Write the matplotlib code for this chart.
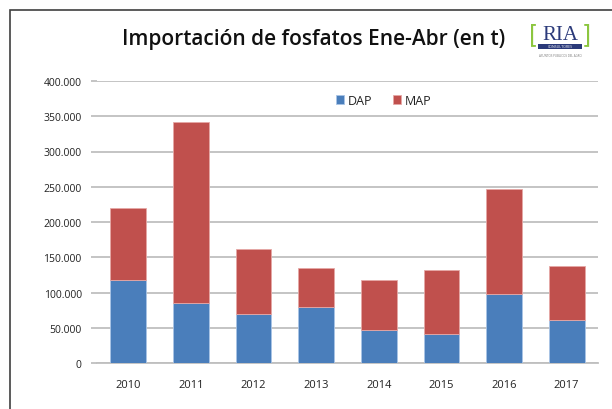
import matplotlib
matplotlib.use("Agg")
import matplotlib.pyplot as plt
from matplotlib.patches import Rectangle
from matplotlib.ticker import FuncFormatter

years = ["2010", "2011", "2012", "2013", "2014", "2015", "2016", "2017"]
dap = [117600, 85800, 69800, 80200, 47600, 41000, 98200, 61300]
total = [219500, 341400, 162300, 135000, 117600, 131700, 246500, 138200]
map_ = [t - d for t, d in zip(total, dap)]

plt.rcParams['font.family'] = ['Open Sans', 'DejaVu Sans']

fig = plt.figure(figsize=(6.12, 4.10), dpi=100)
fig.patch.set_facecolor('white')

# outer frame (cropped on right and bottom)
fig.add_artist(Rectangle((10/612, -0.1), 1.2, 1 - 11/410 + 0.1, transform=fig.transFigure,
                         fill=False, edgecolor='#404040', linewidth=1.2))

ax = fig.add_axes([97/612, 1 - 364.3/410, 501/612, 282.4/410])
x = range(len(years))
ax.bar(x, dap, width=0.57, color='#4A7EBB', edgecolor='#a9c4e6', linewidth=0.6, label='DAP', zorder=3)
ax.bar(x, map_, bottom=dap, width=0.57, color='#C0504D', edgecolor='#e6a8a6', linewidth=0.6, label='MAP', zorder=3)

ax.set_xlim(-0.5, len(years) - 0.5)
ax.set_ylim(0, 400000)
ax.set_yticks(range(0, 400001, 50000))
ax.yaxis.set_major_formatter(FuncFormatter(lambda v, p: f"{int(v):,}".replace(",", ".")))
ax.set_xticks(list(x))
ax.set_xticklabels(years)
ax.grid(axis='y', color='#bfbfbf', linewidth=1.3, zorder=0)
for s in ['top', 'right', 'left']:
    ax.spines[s].set_visible(False)
ax.spines['bottom'].set_color('#bfbfbf')
ax.spines['bottom'].set_linewidth(1.3)
ax.tick_params(axis='y', length=4, color='#bfbfbf', width=1.3, labelsize=7.5, labelcolor='#222222', pad=7)
ax.tick_params(axis='x', length=0, labelsize=8, labelcolor='#222222', pad=11)

leg = ax.legend(loc='upper center', bbox_to_anchor=(0.572, 0.995), ncol=2, frameon=False,
                fontsize=9, handlelength=0.7, handleheight=0.7, handletextpad=0.3, columnspacing=1.6)
for t in leg.get_texts():
    t.set_color('#222222')

fig.text(314/612, 1 - 40/410, "Importación de fosfatos Ene-Abr (en t)", ha='center', va='center',
         fontsize=15, fontweight='semibold', color='#111111', family=['Open Sans', 'DejaVu Sans'])

# RIA logo
lx, ly = 560/612, 1 - 35/410
fig.text(lx, ly, "RIA", ha='center', va='center', fontsize=15, color='#2b3a7a',
         family=['Liberation Serif', 'DejaVu Serif'])
fig.text(lx - 26/612, ly, "[", ha='center', va='center', fontsize=17, color='#8cc63f',
         family=['DejaVu Sans'])
fig.text(lx + 26/612, ly, "]", ha='center', va='center', fontsize=17, color='#8cc63f',
         family=['DejaVu Sans'])
fig.add_artist(Rectangle((lx - 22/612, 1 - 50/410), 44/612, 5/410, transform=fig.transFigure,
                         facecolor='#2b3a7a', edgecolor='none'))
fig.text(lx, 1 - 47.5/410, "CONSULTORES", ha='center', va='center', fontsize=2.5, color='white')
fig.text(lx, 1 - 56/410, "ASUNTOS PUBLICOS DEL AGRO", ha='center', va='center', fontsize=2.2, color='#777777')

fig.savefig("out.png", dpi=100, facecolor='white')
